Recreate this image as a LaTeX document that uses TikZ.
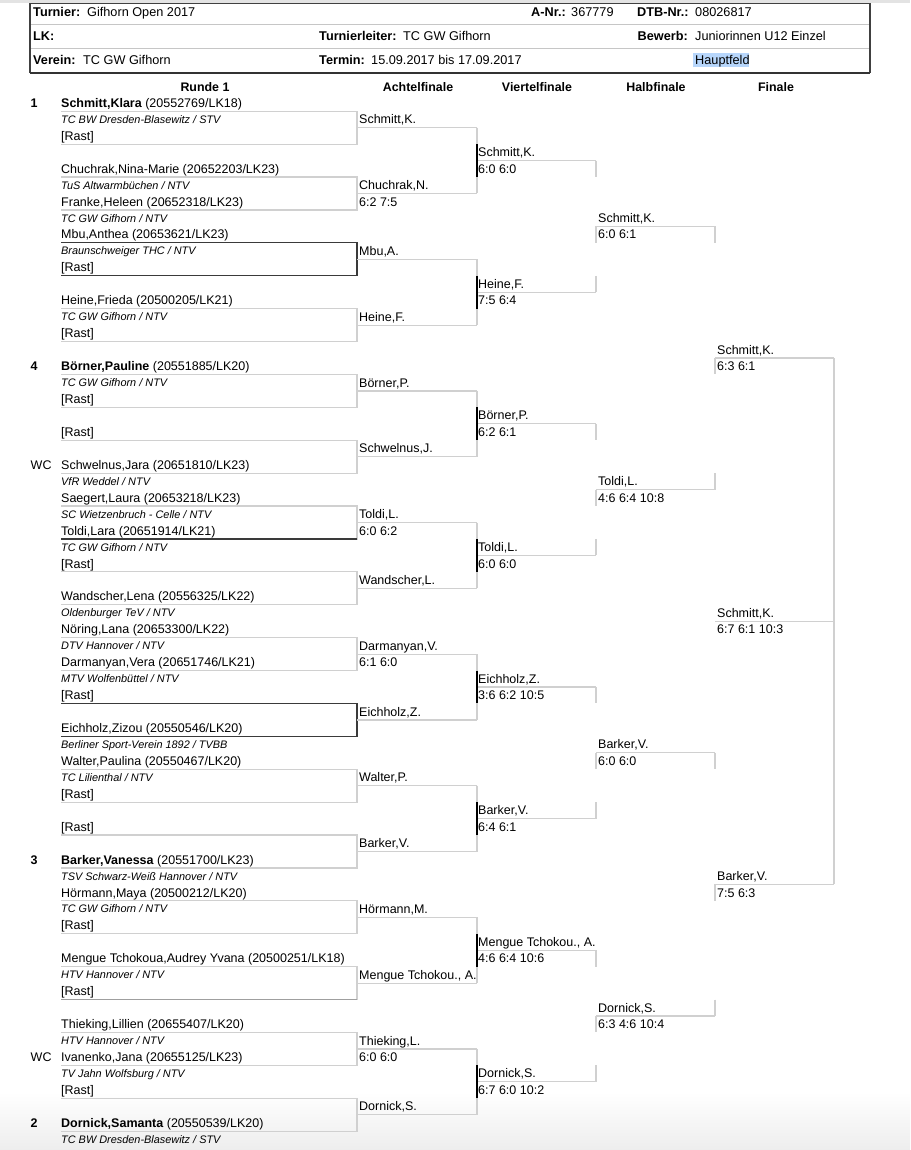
\documentclass[tikz,border=0pt]{standalone}
\usepackage{fontspec}
\setmainfont{Liberation Sans}
\definecolor{hl}{HTML}{B7D6FB}
\definecolor{lgray}{HTML}{D0D0D0}
\definecolor{dgray}{HTML}{3A3A3A}
\pgfmathdeclarefunction{ly}{1}{\pgfmathparse{103+16.45*(#1)}}
\pgfmathdeclarefunction{lb}{1}{\pgfmathparse{103+16.45*(#1)-8.2}}
\newcommand\PLn[2]{\node[nm] (r#1) at (61,{ly(#1)+4.4}) {#2};}
\newcommand\PLc[2]{\node[cl] (r#1) at (61,{ly(#1)+3.9}) {#2};}
\newcommand\PLr[1]{\node[nm] (r#1) at (61,{ly(#1)+4.4}) {[Rast]};}
\newcommand\colt[4]{\node[nm] (#1) at (#2,{ly(#3)+4.4}) {#4};}
\newcommand\seedt[3]{\node[nm] (#1) at (30.5,{ly(#2)+4.4}) {#3};}
\begin{document}
\begin{tikzpicture}[x=1pt,y=-1pt,
  nm/.style={inner sep=0pt,anchor=base west,font=\fontsize{12.5}{14}\selectfont},
  cl/.style={inner sep=0pt,anchor=base west,font=\fontsize{10.9}{12}\selectfont\itshape},
  hd/.style={inner sep=0pt,anchor=base west,font=\fontsize{12.7}{14}\selectfont},
  colh/.style={inner sep=0pt,anchor=base,font=\fontsize{12.4}{14}\selectfont\bfseries},
  gl/.style={draw=lgray,line width=1.2pt},
  dl/.style={draw=dgray,line width=1.1pt},
  bl/.style={draw=black,line width=1.1pt}]
\useasboundingbox (0,0) rectangle (910,1150);
\fill[white] (0,0) rectangle (910,1150);
% browser strip and bottom shade
\fill[gray!22] (0,0) rectangle (910,2.8);
\shade[top color=white,bottom color=gray!14] (0,1092) rectangle (910,1150);
% header table
\fill[hl] (693,53) rectangle (749,67.5);
\draw[gray!45,line width=1pt] (30,24.5) -- (870,24.5);
\draw[gray!45,line width=1pt] (30,48.5) -- (870,48.5);
\draw[black!75,line width=1.3pt] (30,73) -- (30,3.5) -- (870,3.5) -- (870,73);
\draw[black!80,line width=1.9pt] (30,73) -- (870,73);
\node[hd] (h1) at (33,16.5) {\bfseries Turnier:};
\node[hd] (h2) at (87,16.5) {Gifhorn Open 2017};
\node[hd] (h3) at (531,16.5) {\bfseries A-Nr.:};
\node[hd] (h4) at (571,16.5) {367779};
\node[hd] (h5) at (637,16.5) {\bfseries DTB-Nr.:};
\node[hd] (h6) at (695,16.5) {08026817};
\node[hd] (h7) at (33,40.5) {\bfseries LK:};
\node[hd] (h8) at (319,40.5) {\bfseries Turnierleiter:};
\node[hd] (h9) at (403,40.5) {TC GW Gifhorn};
\node[hd,anchor=base east] (h10) at (688,40.5) {\bfseries Bewerb:};
\node[hd] (h11) at (695,40.5) {Juniorinnen U12 Einzel};
\node[hd] (h12) at (33,64.5) {\bfseries Verein:};
\node[hd] (h13) at (83,64.5) {TC GW Gifhorn};
\node[hd] (h14) at (319,64.5) {\bfseries Termin:};
\node[hd] (h15) at (371,64.5) {15.09.2017 bis 17.09.2017};
\node[hd] (h16) at (695,64.5) {Hauptfeld};
% column heads
\node[colh] (c1) at (205,91.5) {Runde 1};
\node[colh] (c2) at (418,91.5) {Achtelfinale};
\node[colh] (c3) at (537,91.5) {Viertelfinale};
\node[colh] (c4) at (656,91.5) {Halbfinale};
\node[colh] (c5) at (776,91.5) {Finale};
% ---- lines: Runde 1 boxes
\foreach \m in {0,...,15}{
  \draw[gl] (61,{lb(4*\m+1)}) -- (357,{lb(4*\m+1)}) -- (357,{lb(4*\m+3)}) -- (61,{lb(4*\m+3)});
}
\foreach \m in {2,9}{
  \draw[dl] (61,{lb(4*\m+1)}) -- (357,{lb(4*\m+1)}) -- (357,{lb(4*\m+3)}) -- (61,{lb(4*\m+3)});
}
\draw[dl] (61,{lb(27)}) -- (357,{lb(27)});
\draw[draw=gray!75,line width=1.8pt] (61,{lb(55)}) -- (357,{lb(55)});
% Achtelfinale
\foreach \m in {0,...,15}{
  \draw[gl] (357,{lb(4*\m+2)}) -- (477,{lb(4*\m+2)});
}
\foreach \j in {0,...,7}{
  \draw[gl] (477,{lb(8*\j+2)}) -- (477,{lb(8*\j+6)});
}
% Viertelfinale
\foreach \j in {0,...,7}{
  \draw[gl] (477,{lb(8*\j+4)}) -- (596,{lb(8*\j+4)});
  \draw[bl] (477,{lb(8*\j+3)}) -- (477,{lb(8*\j+5)});
}
\foreach \j in {0,2,4,6}{ \draw[gl] (596,{lb(8*\j+4)}) -- (596,{lb(8*\j+5)}); }
\foreach \j in {1,3,5,7}{ \draw[gl] (596,{lb(8*\j+3)}) -- (596,{lb(8*\j+4)}); }
% Halbfinale
\foreach \k in {0,...,3}{
  \draw[gl] (596,{lb(16*\k+8)}) -- (715,{lb(16*\k+8)});
  \draw[gl] (596,{lb(16*\k+8)}) -- (596,{lb(16*\k+9)});
}
\foreach \k in {0,2}{ \draw[gl] (715,{lb(16*\k+8)}) -- (715,{lb(16*\k+9)}); }
\foreach \k in {1,3}{ \draw[gl] (715,{lb(16*\k+7)}) -- (715,{lb(16*\k+8)}); }
% Finale
\foreach \n in {16,32,48}{ \draw[gl] (715,{lb(\n)}) -- (834,{lb(\n)}); }
\draw[gl] (834,{lb(16)}) -- (834,{lb(48)});
\draw[gl] (715,{lb(16)}) -- (715,{lb(17)});
\draw[gl] (715,{lb(48)}) -- (715,{lb(49)});
% ---- seeds
\seedt{s1}{0}{\bfseries 1}
\seedt{s4}{16}{\bfseries 4}
\seedt{sw1}{22}{WC}
\seedt{s3}{46}{\bfseries 3}
\seedt{sw2}{58}{WC}
\seedt{s2}{62}{\bfseries 2}
% ---- Runde 1
\PLn{0}{\textbf{Schmitt,Klara} (20552769/LK18)}
\PLc{1}{TC BW Dresden-Blasewitz / STV}
\PLr{2}
\PLn{4}{Chuchrak,Nina-Marie (20652203/LK23)}
\PLc{5}{TuS Altwarmbüchen / NTV}
\PLn{6}{Franke,Heleen (20652318/LK23)}
\PLc{7}{TC GW Gifhorn / NTV}
\PLn{8}{Mbu,Anthea (20653621/LK23)}
\PLc{9}{Braunschweiger THC / NTV}
\PLr{10}
\PLn{12}{Heine,Frieda (20500205/LK21)}
\PLc{13}{TC GW Gifhorn / NTV}
\PLr{14}
\PLn{16}{\textbf{Börner,Pauline} (20551885/LK20)}
\PLc{17}{TC GW Gifhorn / NTV}
\PLr{18}
\PLr{20}
\PLn{22}{Schwelnus,Jara (20651810/LK23)}
\PLc{23}{VfR Weddel / NTV}
\PLn{24}{Saegert,Laura (20653218/LK23)}
\PLc{25}{SC Wietzenbruch - Celle / NTV}
\PLn{26}{Toldi,Lara (20651914/LK21)}
\PLc{27}{TC GW Gifhorn / NTV}
\PLr{28}
\PLn{30}{Wandscher,Lena (20556325/LK22)}
\PLc{31}{Oldenburger TeV / NTV}
\PLn{32}{Nöring,Lana (20653300/LK22)}
\PLc{33}{DTV Hannover / NTV}
\PLn{34}{Darmanyan,Vera (20651746/LK21)}
\PLc{35}{MTV Wolfenbüttel / NTV}
\PLr{36}
\PLn{38}{Eichholz,Zizou (20550546/LK20)}
\PLc{39}{Berliner Sport-Verein 1892 / TVBB}
\PLn{40}{Walter,Paulina (20550467/LK20)}
\PLc{41}{TC Lilienthal / NTV}
\PLr{42}
\PLr{44}
\PLn{46}{\textbf{Barker,Vanessa} (20551700/LK23)}
\PLc{47}{TSV Schwarz-Weiß Hannover / NTV}
\PLn{48}{Hörmann,Maya (20500212/LK20)}
\PLc{49}{TC GW Gifhorn / NTV}
\PLr{50}
\PLn{52}{Mengue Tchokoua,Audrey Yvana (20500251/LK18)}
\PLc{53}{HTV Hannover / NTV}
\PLr{54}
\PLn{56}{Thieking,Lillien (20655407/LK20)}
\PLc{57}{HTV Hannover / NTV}
\PLn{58}{Ivanenko,Jana (20655125/LK23)}
\PLc{59}{TV Jahn Wolfsburg / NTV}
\PLr{60}
\PLn{62}{\textbf{Dornick,Samanta} (20550539/LK20)}
\PLc{63}{TC BW Dresden-Blasewitz / STV}
% ---- Achtelfinale
\colt{a0}{359}{1}{Schmitt,K.}
\colt{a1}{359}{5}{Chuchrak,N.}
\colt{a1s}{359}{6}{6:2 7:5}
\colt{a2}{359}{9}{Mbu,A.}
\colt{a3}{359}{13}{Heine,F.}
\colt{a4}{359}{17}{Börner,P.}
\colt{a5}{359}{21}{Schwelnus,J.}
\colt{a6}{359}{25}{Toldi,L.}
\colt{a6s}{359}{26}{6:0 6:2}
\colt{a7}{359}{29}{Wandscher,L.}
\colt{a8}{359}{33}{Darmanyan,V.}
\colt{a8s}{359}{34}{6:1 6:0}
\colt{a9}{359}{37}{Eichholz,Z.}
\colt{a10}{359}{41}{Walter,P.}
\colt{a11}{359}{45}{Barker,V.}
\colt{a12}{359}{49}{Hörmann,M.}
\colt{a13}{359}{53}{Mengue Tchokou., A.}
\colt{a14}{359}{57}{Thieking,L.}
\colt{a14s}{359}{58}{6:0 6:0}
\colt{a15}{359}{61}{Dornick,S.}
% ---- Viertelfinale
\colt{v0}{478}{3}{Schmitt,K.}
\colt{v0s}{478}{4}{6:0 6:0}
\colt{v1}{478}{11}{Heine,F.}
\colt{v1s}{478}{12}{7:5 6:4}
\colt{v2}{478}{19}{Börner,P.}
\colt{v2s}{478}{20}{6:2 6:1}
\colt{v3}{478}{27}{Toldi,L.}
\colt{v3s}{478}{28}{6:0 6:0}
\colt{v4}{478}{35}{Eichholz,Z.}
\colt{v4s}{478}{36}{3:6 6:2 10:5}
\colt{v5}{478}{43}{Barker,V.}
\colt{v5s}{478}{44}{6:4 6:1}
\colt{v6}{478}{51}{Mengue Tchokou., A.}
\colt{v6s}{478}{52}{4:6 6:4 10:6}
\colt{v7}{478}{59}{Dornick,S.}
\colt{v7s}{478}{60}{6:7 6:0 10:2}
% ---- Halbfinale
\colt{hf0}{598}{7}{Schmitt,K.}
\colt{hf0s}{598}{8}{6:0 6:1}
\colt{hf1}{598}{23}{Toldi,L.}
\colt{hf1s}{598}{24}{4:6 6:4 10:8}
\colt{hf2}{598}{39}{Barker,V.}
\colt{hf2s}{598}{40}{6:0 6:0}
\colt{hf3}{598}{55}{Dornick,S.}
\colt{hf3s}{598}{56}{6:3 4:6 10:4}
% ---- Finale
\colt{f0}{717}{15}{Schmitt,K.}
\colt{f0s}{717}{16}{6:3 6:1}
\colt{f1}{717}{31}{Schmitt,K.}
\colt{f1s}{717}{32}{6:7 6:1 10:3}
\colt{f2}{717}{47}{Barker,V.}
\colt{f2s}{717}{48}{7:5 6:3}
\end{tikzpicture}
\end{document}
